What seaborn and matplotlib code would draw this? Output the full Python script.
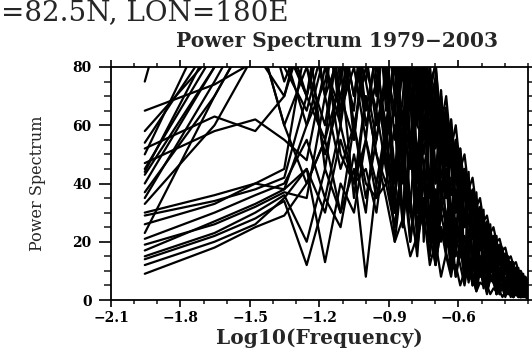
import numpy as np
import pandas as pd
import matplotlib
matplotlib.use("Agg")
import matplotlib.pyplot as plt
import seaborn as sns

# harmonics k = 1..45 of a 90-day season
harmonic = np.arange(1, 46)
season_days = 90

# power spectrum values per year (k = 1..45)
spec = {
    1979: [75,160,140,95,70,110,60,120,85,105, 70,95,40,88,60,90,35,78,50,66,25,55,33,45,18,36,24,30,12,24,17,20,9,17,12,14,6,12,8,10,5,8,6,7,4],
    1980: [65,74,82,88,70,95,105,80,115,75, 90,30,100,50,85,20,82,40,72,15,58,30,48,10,38,22,32,8,26,15,22,6,19,12,15,4,12,9,10,3,8,6,7,2,6],
    1981: [54,90,120,85,60,75,100,55,90,110, 65,80,50,95,45,85,65,76,30,66,50,54,20,44,35,36,15,30,24,25,10,21,17,18,7,15,12,12,5,10,8,8,3,7,5],
    1982: [52,63,58,70,95,45,80,35,70,50, 40,60,25,55,35,45,20,38,28,30,12,26,18,22,8,18,14,15,5,12,10,10,4,8,7,7,3,6,5,5,2,4,3,3,1],
    1983: [50,100,130,90,110,70,85,95,60,75, 90,55,80,30,70,50,68,25,58,40,50,18,42,28,34,12,29,20,23,8,19,14,16,6,13,10,11,4,9,7,8,3,6,5,4],
    1984: [47,58,62,55,48,80,65,90,100,70, 110,85,60,95,75,55,80,60,70,52,62,45,52,38,41,30,34,25,28,21,24,18,20,15,17,13,14,11,12,9,10,8,8,6,7],
    1985: [45,85,110,75,95,120,65,80,55,90, 45,70,25,50,30,40,15,35,20,28,10,22,15,18,6,15,10,12,4,10,7,8,3,6,5,5,2,4,3,3,1,3,2,2,1],
    1986: [43,80,105,130,80,60,95,70,85,60, 75,30,95,55,20,60,42,15,35,45,12,38,26,9,21,25,7,20,15,5,12,14,4,11,8,3,7,8,2,6,4,2,3,4,1],
    1987: [37,70,95,60,40,55,75,110,80,65, 100,70,85,50,90,70,75,52,65,46,55,42,45,36,38,29,31,24,26,20,21,17,18,14,15,12,13,10,11,8,9,7,7,6,5],
    1988: [35,75,100,80,65,90,70,55,95,80, 60,85,25,95,40,80,20,70,35,58,15,48,25,40,10,33,18,27,8,23,12,19,5,16,10,13,4,11,7,9,3,8,5,6,2],
    1989: [30,36,40,45,90,110,75,100,65,85, 55,35,60,20,45,30,38,12,30,20,25,8,20,14,16,5,13,10,11,3,9,7,8,2,6,5,5,2,4,3,3,1,2,2,1],
    1990: [29,34,38,42,70,55,95,60,80,105, 75,40,90,70,30,75,60,25,48,55,18,46,35,12,29,32,10,27,21,7,18,19,5,16,13,4,11,11,3,9,7,2,6,6,2],
    1991: [23,70,95,60,80,50,70,90,60,75, 50,30,45,20,38,28,30,12,25,18,20,8,16,12,13,5,10,8,9,3,7,6,6,2,5,4,4,1,3,3,2,1,2,1,1],
    1992: [21,30,36,40,55,35,60,40,45,30, 55,85,60,75,50,70,55,60,42,52,36,44,30,36,26,30,22,25,18,20,15,17,13,14,11,12,9,10,8,8,6,6,5,5,3],
    1993: [17,27,33,38,45,30,55,40,70,50, 35,20,28,15,22,30,12,20,8,16,10,12,5,10,7,8,3,6,5,5,2,4,3,3,1,3,2,2,1,2,1,1,1,1,0.5],
    1994: [15,23,30,36,20,45,30,60,40,35, 55,65,45,80,60,55,70,45,56,40,48,34,40,29,33,25,27,21,22,18,19,15,16,13,13,11,11,9,9,8,7,7,5,6,4],
    1995: [14,22,28,34,12,35,25,50,30,65, 45,25,50,30,18,35,22,12,25,15,8,18,12,5,14,9,3,10,7,2,8,6,2,6,4,1,4,3,1,3,2,1,2,1,1],
    1996: [12,20,26,35,45,13,40,30,55,40, 60,20,45,70,25,40,45,15,38,30,10,28,22,6,20,16,4,14,12,3,10,9,2,8,6,2,5,5,1,4,3,1,3,2,1],
    1997: [9,18,25,29,40,55,30,45,8,40, 55,35,60,45,70,45,58,40,50,35,42,30,35,25,29,21,24,17,19,14,16,12,13,10,11,9,9,7,8,6,6,5,4,4,3],
    1998: [40,80,120,90,70,100,85,65,110,90, 75,100,80,95,70,85,75,80,60,70,52,60,45,50,38,42,32,35,27,29,23,25,20,21,17,18,14,15,12,13,10,10,8,8,6],
    1999: [33,60,85,70,100,80,60,90,75,55, 80,65,90,75,100,90,70,82,58,66,48,52,40,45,34,37,28,31,24,26,20,22,17,18,15,15,12,13,10,11,9,9,7,7,6],
    2000: [26,33,40,38,60,85,50,40,55,35, 40,25,50,35,15,45,30,20,35,25,12,28,18,8,20,14,5,15,11,3,12,9,2,9,7,2,7,5,1,5,4,1,3,3,1],
    2001: [19,26,32,37,35,70,45,60,35,55, 75,45,65,50,85,60,75,55,70,48,58,42,48,35,40,30,34,25,27,21,23,18,20,15,16,13,14,11,12,10,10,8,8,7,6],
    2002: [58,85,110,100,80,120,95,70,100,85, 110,70,95,80,65,95,68,76,55,64,46,55,40,45,34,38,29,32,25,27,21,22,18,19,15,16,13,13,11,11,9,9,7,7,6],
    2003: [44,90,115,80,100,70,110,90,75,105, 80,40,70,100,30,70,55,20,72,35,62,15,52,25,44,10,37,18,31,6,26,12,22,4,18,9,15,3,13,7,11,2,9,5,7],
}

xticks = [-2.1, -1.8, -1.5, -1.2, -0.9, -0.6]
yticks = [0, 20, 40, 60, 80]

logf = np.log10(harmonic / season_days)
rows = []
for yr, vals in spec.items():
    assert len(vals) == len(harmonic), yr
    for x, v in zip(logf, vals):
        rows.append((yr, x, v))
df = pd.DataFrame(rows, columns=["year", "logf", "power"])

sns.set_style("ticks")
plt.rcParams["font.family"] = ["DejaVu Serif"]

fig = plt.figure(figsize=(5.32, 3.49), dpi=100)
ax = fig.add_axes([111/532, 49/349, 417/532, 233/349])

sns.lineplot(data=df, x="logf", y="power", units="year", estimator=None,
             color="black", lw=1.6, legend=False, ax=ax)

ax.set_xlim(-2.1, -0.3)
ax.set_ylim(0, 80)
ax.set_xticks(xticks)
ax.set_xticklabels([f"{t:.1f}".replace("-", "\u2212") for t in xticks])
ax.set_xticks(np.arange(-2.1, -0.29, 0.1), minor=True)
ax.set_yticks(yticks)
ax.set_yticks(np.arange(0, 81, 5), minor=True)
ax.tick_params(axis="both", direction="out", top=True, right=True, width=1.2,
               labelsize=10, colors="black")
ax.tick_params(axis="x", which="major", length=5, pad=3)
ax.tick_params(axis="x", which="minor", length=3, top=True, width=1.2)
ax.tick_params(axis="y", which="major", length=9, pad=5)
ax.tick_params(axis="y", which="minor", length=5, right=True, width=1.2)
for lab in ax.get_xticklabels() + ax.get_yticklabels():
    lab.set_fontweight("bold")
for sp in ax.spines.values():
    sp.set_linewidth(1.3)
    sp.set_color("black")

ax.set_xlabel("Log10(Frequency)", fontsize=14.5, fontweight="bold", labelpad=2)
ax.set_ylabel("Power Spectrum", fontsize=11.5, labelpad=19)

fig.text(337/532, 1 - 41/349, "Power Spectrum 1979\u22122003", ha="center",
         va="center", fontsize=14.5, fontweight="bold")

# header as it shows in the picture (its start is off the edge there)
fig.text(1/532, 1 - 13/349, "=82.5N, LON=180E", ha="left", va="center",
         fontsize=20)

fig.savefig("out.png", dpi=100)
